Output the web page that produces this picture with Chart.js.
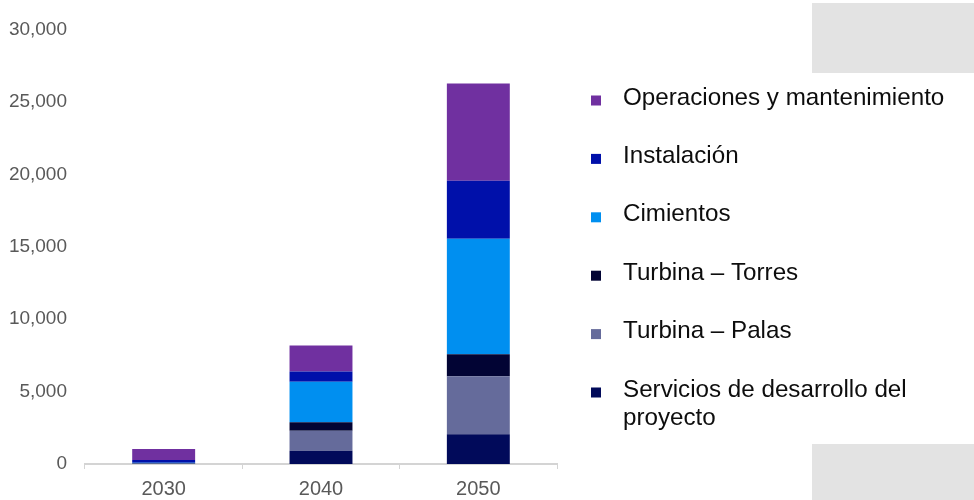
<!DOCTYPE html>
<html>
<head>
<meta charset="utf-8">
<script src="https://cdn.jsdelivr.net/npm/chart.js@4.4.0/dist/chart.umd.min.js"></script>
<style>
  html, body { margin: 0; padding: 0; background: #fff; }
  #wrap { position: relative; width: 974px; height: 500px; overflow: hidden; }
  #chart { position: absolute; left: 0; top: 0; }
  .shade { position: absolute; background: #e3e3e3; }
</style>
</head>
<body>
<div id="wrap">
  <div class="shade" style="left:812px; top:3px; width:162px; height:70px;"></div>
  <div class="shade" style="left:812px; top:444px; width:162px; height:56px;"></div>
  <canvas id="chart" width="974" height="500"></canvas>
</div>
<script>
// years on the x axis
const years = ["2030", "2040", "2050"]

// stacked segments, bottom to top
const servicios = [20, 920, 2050]
const palas = [20, 1370, 4000]
const torres = [10, 590, 1520]
const cimientos = [40, 2790, 7980]
const instalacion = [180, 710, 4000]
const operaciones = [760, 1800, 6720]

const seriesNames = [
    ["Servicios de desarrollo del", "proyecto"],
    "Turbina – Palas",
    "Turbina – Torres",
    "Cimientos",
    "Instalación",
    "Operaciones y mantenimiento",
]
const seriesColors = ["#010a5a", "#656b9b", "#020434", "#008ff0", "#0010aa", "#7030a0"]

const yTicks = [0, 5000, 10000, 15000, 20000, 25000, 30000]

const font = "'Liberation Sans', Arial, sans-serif"

// legend on the right, drawn top-down in reverse stack order
const sideLegend = {
    id: "sideLegend",
    afterDraw(chart) {
        const ctx = chart.ctx
        const sets = chart.data.datasets.slice().reverse()
        ctx.save()
        ctx.font = "24.2px " + font
        ctx.textBaseline = "alphabetic"
        ctx.textAlign = "left"
        sets.forEach((ds, i) => {
            const base = 104.5 + i * 58.4
            ctx.fillStyle = ds.backgroundColor
            ctx.fillRect(591, base - 9, 10, 10)
            ctx.fillStyle = "#0d0d0d"
            const lines = Array.isArray(ds.label) ? ds.label : [ds.label]
            lines.forEach((line, j) => ctx.fillText(line, 623, base + j * 28.5))
        })
        ctx.restore()
    },
}

const seriesData = [servicios, palas, torres, cimientos, instalacion, operaciones]

new Chart(document.getElementById("chart"), {
    type: "bar",
    data: {
        labels: years,
        datasets: seriesData.map((values, i) => ({
            label: seriesNames[i],
            data: values,
            backgroundColor: seriesColors[i],
            borderWidth: 0,
            barPercentage: 0.4,
            categoryPercentage: 1,
        })),
    },
    options: {
        responsive: false,
        animation: false,
        layout: { padding: { left: 0, right: 417, top: 27, bottom: 0 } },
        plugins: {
            legend: { display: false },
            tooltip: { enabled: false },
        },
        scales: {
            x: {
                stacked: true,
                grid: {
                    display: true,
                    drawOnChartArea: false,
                    drawTicks: true,
                    tickLength: 5,
                    color: "#d4d4d4",
                    offset: true,
                },
                border: { display: true, color: "#d4d4d4", width: 2 },
                ticks: { color: "#595959", font: { family: font, size: 20 }, padding: 8 },
                afterFit(scale) { scale.height = 36 },
            },
            y: {
                stacked: true,
                min: 0,
                max: 30000,
                grid: { display: false, drawTicks: false },
                border: { display: false },
                afterBuildTicks(scale) { scale.ticks = yTicks.map(v => ({ value: v })) },
                ticks: {
                    color: "#595959",
                    font: { family: font, size: 19 },
                    padding: 18,
                    callback: v => v.toLocaleString("en-US"),
                },
                afterFit(scale) { scale.width = 85 },
            },
        },
    },
    plugins: [sideLegend],
})
</script>
</body>
</html>
